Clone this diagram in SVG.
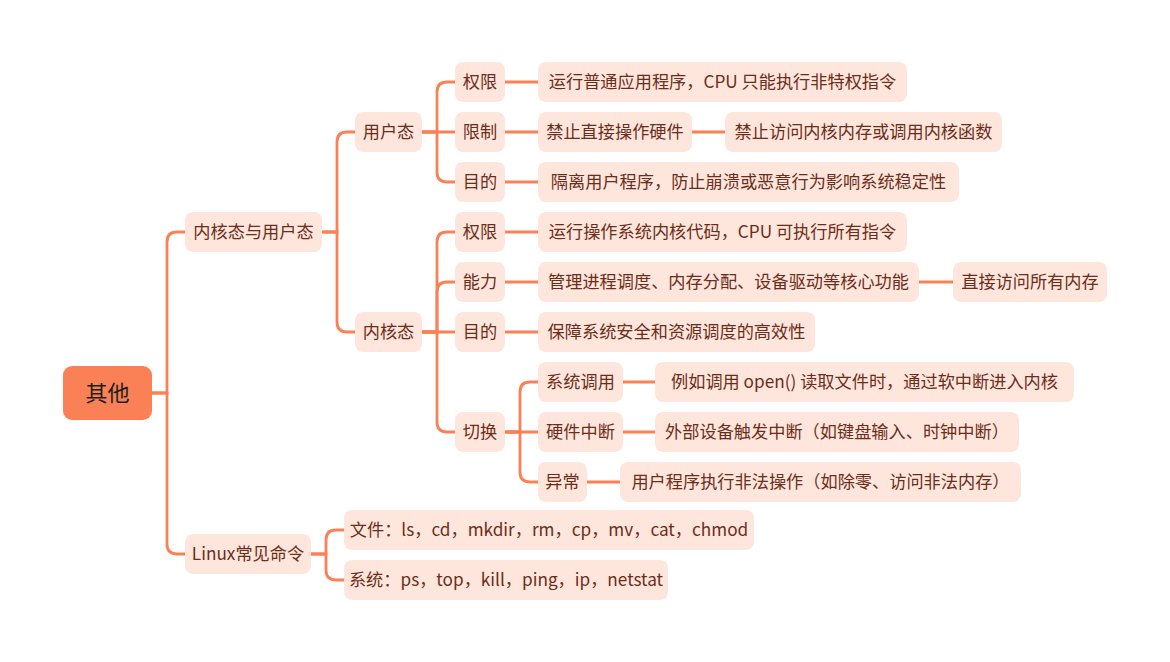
<svg xmlns="http://www.w3.org/2000/svg" width="1170" height="662" viewBox="0 0 1170 662">
<style>
.n rect{fill:#FFE6DD}
.n text{font-family:"Noto Sans CJK SC","Microsoft YaHei",sans-serif;font-size:17.2px;fill:#6B2D18;text-anchor:middle}
.root rect{fill:#FA8155}
.root text{font-family:"Noto Sans CJK SC",sans-serif;font-size:22px;fill:#1E1E1E;text-anchor:middle}
.c path{fill:none;stroke:#FA8155;stroke-width:2.8;stroke-linecap:round}
</style>
<rect width="1170" height="662" fill="#FFFFFF"/>
<g class="c" id="connectors">
<path d="M152 393 H167 V242 Q167 232 177 232 H185"/>
<path d="M152 393 H167 V544 Q167 554 177 554 H185"/>
<path d="M322 232 H337 V142 Q337 132 347 132 H355"/>
<path d="M322 232 H337 V322 Q337 332 347 332 H355"/>
<path d="M422 132 H437 V92 Q437 82 447 82 H455"/>
<path d="M422 132 H455"/>
<path d="M422 132 H437 V172 Q437 182 447 182 H455"/>
<path d="M422 332 H437 V242 Q437 232 447 232 H455"/>
<path d="M422 332 H437 V292 Q437 282 447 282 H455"/>
<path d="M422 332 H455"/>
<path d="M422 332 H437 V422 Q437 432 447 432 H455"/>
<path d="M505 82 H538"/>
<path d="M505 132 H538"/>
<path d="M692 132 H725"/>
<path d="M505 182 H538"/>
<path d="M505 232 H538"/>
<path d="M505 282 H538"/>
<path d="M919 282 H953"/>
<path d="M505 332 H538"/>
<path d="M505 432 H520 V392 Q520 382 530 382 H538"/>
<path d="M505 432 H538"/>
<path d="M505 432 H520 V472 Q520 482 530 482 H538"/>
<path d="M623 382 H655"/>
<path d="M623 432 H655"/>
<path d="M587 482 H620"/>
<path d="M311 554 H326 V540 Q326 530 336 530 H344"/>
<path d="M311 554 H326 V570 Q326 580 336 580 H344"/>
</g>
<g class="root" id="n-root"><rect x="63" y="366" width="89" height="54" rx="9"/><text x="107.5" y="401">其他</text></g>
<g class="n" id="n-kernel-user"><rect x="185" y="212" width="137" height="40" rx="8"/><text x="253.5" y="238">内核态与用户态</text></g>
<g class="n" id="n-linux"><rect x="185" y="534" width="126" height="40" rx="8"/><text x="248" y="560">Linux常见命令</text></g>
<g class="n" id="n-user"><rect x="355" y="112" width="67" height="40" rx="8"/><text x="388.5" y="138">用户态</text></g>
<g class="n" id="n-kernel"><rect x="355" y="312" width="67" height="40" rx="8"/><text x="388.5" y="338">内核态</text></g>
<g class="n" id="n-u-perm"><rect x="455" y="62" width="50" height="40" rx="8"/><text x="480" y="88">权限</text></g>
<g class="n" id="n-u-limit"><rect x="455" y="112" width="50" height="40" rx="8"/><text x="480" y="138">限制</text></g>
<g class="n" id="n-u-goal"><rect x="455" y="162" width="50" height="40" rx="8"/><text x="480" y="188">目的</text></g>
<g class="n" id="n-u-perm-d"><rect x="538" y="62" width="369" height="40" rx="8"/><text x="722.5" y="88">运行普通应用程序，CPU 只能执行非特权指令</text></g>
<g class="n" id="n-u-limit-d"><rect x="538" y="112" width="154" height="40" rx="8"/><text x="615" y="138">禁止直接操作硬件</text></g>
<g class="n" id="n-u-limit-d2"><rect x="725" y="112" width="277" height="40" rx="8"/><text x="863.5" y="138">禁止访问内核内存或调用内核函数</text></g>
<g class="n" id="n-u-goal-d"><rect x="538" y="162" width="421" height="40" rx="8"/><text x="748.5" y="188">隔离用户程序，防止崩溃或恶意行为影响系统稳定性</text></g>
<g class="n" id="n-k-perm"><rect x="455" y="212" width="50" height="40" rx="8"/><text x="480" y="238">权限</text></g>
<g class="n" id="n-k-ability"><rect x="455" y="262" width="50" height="40" rx="8"/><text x="480" y="288">能力</text></g>
<g class="n" id="n-k-goal"><rect x="455" y="312" width="50" height="40" rx="8"/><text x="480" y="338">目的</text></g>
<g class="n" id="n-k-switch"><rect x="455" y="412" width="50" height="40" rx="8"/><text x="480" y="438">切换</text></g>
<g class="n" id="n-k-perm-d"><rect x="538" y="212" width="369" height="40" rx="8"/><text x="722.5" y="238">运行操作系统内核代码，CPU 可执行所有指令</text></g>
<g class="n" id="n-k-ability-d"><rect x="538" y="262" width="381" height="40" rx="8"/><text x="728.5" y="288">管理进程调度、内存分配、设备驱动等核心功能</text></g>
<g class="n" id="n-k-ability-d2"><rect x="953" y="262" width="154" height="40" rx="8"/><text x="1030" y="288">直接访问所有内存</text></g>
<g class="n" id="n-k-goal-d"><rect x="538" y="312" width="277" height="40" rx="8"/><text x="676.5" y="338">保障系统安全和资源调度的高效性</text></g>
<g class="n" id="n-syscall"><rect x="538" y="362" width="85" height="40" rx="8"/><text x="580.5" y="388">系统调用</text></g>
<g class="n" id="n-hwint"><rect x="538" y="412" width="85" height="40" rx="8"/><text x="580.5" y="438">硬件中断</text></g>
<g class="n" id="n-exc"><rect x="538" y="462" width="49" height="40" rx="8"/><text x="562.5" y="488">异常</text></g>
<g class="n" id="n-syscall-d"><rect x="655" y="362" width="419" height="40" rx="8"/><text x="864.5" y="388">例如调用 open() 读取文件时，通过软中断进入内核</text></g>
<g class="n" id="n-hwint-d"><rect x="655" y="412" width="364" height="40" rx="8"/><text x="837" y="438">外部设备触发中断（如键盘输入、时钟中断）</text></g>
<g class="n" id="n-exc-d"><rect x="620" y="462" width="401" height="40" rx="8"/><text x="820.5" y="488">用户程序执行非法操作（如除零、访问非法内存）</text></g>
<g class="n" id="n-file"><rect x="344" y="510" width="410" height="40" rx="8"/><text x="549" y="536">文件：ls，cd，mkdir，rm，cp，mv，cat，chmod</text></g>
<g class="n" id="n-sys"><rect x="344" y="560" width="324" height="40" rx="8"/><text x="506" y="586">系统：ps，top，kill，ping，ip，netstat</text></g>
</svg>
